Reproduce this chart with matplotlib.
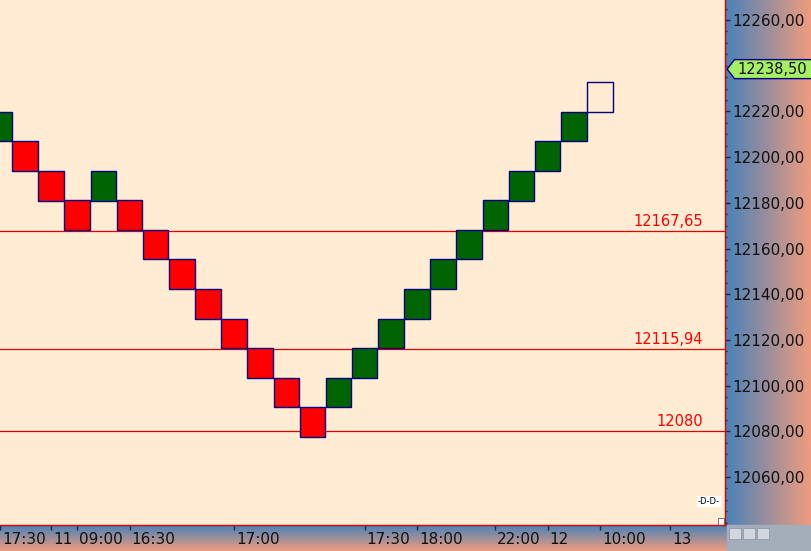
import numpy as np
import matplotlib.pyplot as plt
from matplotlib.patches import Polygon, Rectangle
from matplotlib.ticker import MultipleLocator, FixedLocator, FuncFormatter
import matplotlib.transforms as mtransforms

# renko bricks: lower edge of each brick, direction (1 up, -1 down, 0 = forming)
brick_low = [12206.9, 12193.9, 12181.0, 12168.1, 12181.0, 12168.1, 12155.2, 12142.3,
             12129.3, 12116.4, 12103.5, 12090.5, 12077.6, 12090.5, 12103.5, 12116.4,
             12129.3, 12142.3, 12155.2, 12168.1, 12181.0, 12193.9, 12206.9, 12219.8]
brick_dir = [1, -1, -1, -1, 1, -1, -1, -1, -1, -1, -1, -1, -1,
             1, 1, 1, 1, 1, 1, 1, 1, 1, 1, 0]
brick_size = 12.93

level_values = [12167.65, 12115.94, 12080.0]
level_labels = ['12167,65', '12115,94', '12080']
last_price = 12238.50
last_label = '12238,50'

price_ticks = [12060, 12080, 12100, 12120, 12140, 12160, 12180, 12200, 12220, 12240, 12260]
price_ticks = [p for p in price_ticks if p != 12240]

time_pos = [0.05, 2, 3, 5, 9, 14, 16, 19, 21, 23, 25.7]
time_labels = ['17:30', '11', '09:00', '16:30', '17:00', '17:30', '18:00',
               '22:00', '12', '10:00', '13']

W, H = 811, 551
bgcol = '#FFECD3'
plt.rcParams['font.family'] = ['DejaVu Sans']

fig = plt.figure(figsize=(W / 100, H / 100), dpi=100)

# background panels (pixel coords)
bg = fig.add_axes([0, 0, 1, 1], zorder=0)
bg.axis('off')
blue = np.array([74, 130, 184]) / 255
salmon = np.array([238, 156, 126]) / 255
t = np.linspace(0, 1, 64)
grad_h = (blue[None, :] * (1 - t[:, None]) + salmon[None, :] * t[:, None])[None, :, :]
grad_v = (blue[None, :] * (1 - t[:, None]) + salmon[None, :] * t[:, None])[:, None, :]
bg.imshow(grad_h, extent=(725, 811, 551, 0), aspect='auto', interpolation='bilinear')
bg.imshow(grad_v, extent=(0, 727, 551, 525), aspect='auto', interpolation='bilinear')
bg.add_patch(Rectangle((727, 525), 84, 26, color='#A4ADBA'))
for bx in [729, 743, 757]:
    bg.add_patch(Rectangle((bx, 528), 12, 11, facecolor='#D2D6DE', edgecolor='#8890A0', lw=0.5))
bg.set_xlim(0, W)
bg.set_ylim(H, 0)

ax = fig.add_axes([0, 26 / H, 725 / W, 525 / H], zorder=1)
ax.set_facecolor(bgcol)

x = np.arange(len(brick_low))
colors = ['#006400' if d > 0 else ('#FF0000' if d < 0 else 'none') for d in brick_dir]
ax.bar(x, brick_size, bottom=brick_low, width=0.98, color=colors,
       edgecolor='#000080', linewidth=1.0, zorder=3)

trans = mtransforms.blended_transform_factory(ax.transAxes, ax.transData)
for v, lab in zip(level_values, level_labels):
    ax.axhline(v, color='#E00000', lw=0.9, zorder=2)
    ax.annotate(lab, xy=(0.97, v), xycoords=trans, xytext=(0, 1.5),
                textcoords='offset points', ha='right', va='bottom',
                color='#FF0000', fontsize=10.5)

ax.set_xlim(0.042, 27.79)
ax.set_ylim(12039.0, 12268.75)

ax.yaxis.tick_right()
ax.yaxis.set_major_locator(FixedLocator(price_ticks))
ax.yaxis.set_minor_locator(MultipleLocator(5))
ax.yaxis.set_major_formatter(FuncFormatter(lambda v, _: f'{v:.2f}'.replace('.', ',')))
ax.tick_params(axis='y', which='major', direction='out', length=3.5, width=1,
               color='#1A2A40', pad=2, labelsize=11, labelcolor='#101010')
ax.tick_params(axis='y', which='minor', direction='out', length=1.5, width=1,
               color='#1A2A40')

ax.set_xticks(time_pos)
ax.set_xticklabels(time_labels)
ax.tick_params(axis='x', direction='out', length=3.8, width=1, color='#1A2A40',
               pad=1.5, labelsize=11, labelcolor='#101010')
shift = mtransforms.ScaledTranslation(2 / 100, 0, fig.dpi_scale_trans)
for lab in ax.get_xticklabels():
    lab.set_ha('left')
    lab.set_transform(lab.get_transform() + shift)

for s in ['left', 'top']:
    ax.spines[s].set_visible(False)
for s in ['right', 'bottom']:
    ax.spines[s].set_color('#E00000')
    ax.spines[s].set_linewidth(1)

# last price tag on the right scale
half = 9.5 / 2.285
tag = Polygon([(1.003, last_price), (1.013, last_price + half), (1.12, last_price + half),
               (1.12, last_price - half), (1.013, last_price - half)],
              closed=True, transform=trans, clip_on=False,
              facecolor='#A6EE62', edgecolor='#000080', lw=1, zorder=5)
ax.add_patch(tag)
ax.text(1.0175, last_price, last_label, transform=trans, clip_on=False,
        ha='left', va='center', fontsize=10.5, color='#101010', zorder=6)

# small icons at lower right of plot
ax.text(0.978, 0.045, '-D-D-', transform=ax.transAxes, ha='center', va='center',
        fontsize=6, color='black',
        bbox=dict(boxstyle='square,pad=0.1', fc='white', ec='none'))
ax.add_patch(Rectangle((0.99, 0.0), 0.009, 0.013, transform=ax.transAxes,
                       facecolor='white', edgecolor='#606060', lw=0.6, clip_on=False))

fig.savefig('out.png', dpi=100)
